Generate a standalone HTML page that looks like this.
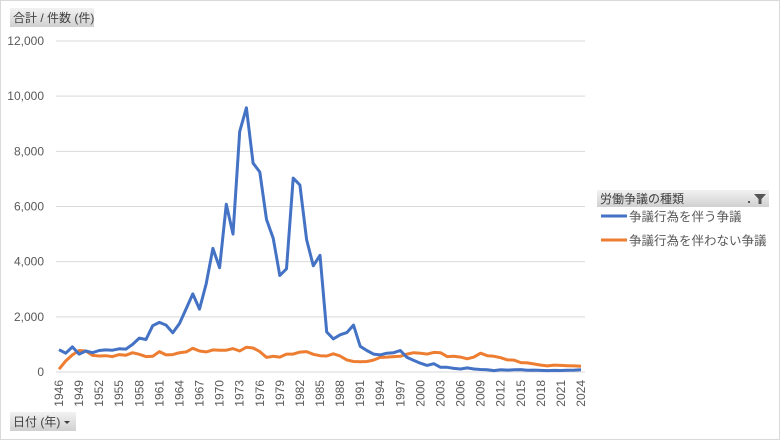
<!DOCTYPE html>
<html><head><meta charset="utf-8"><style>
body{margin:0;background:#fff;}
svg{display:block;font-family:"Liberation Sans","Noto Sans CJK JP",sans-serif;}
</style></head><body>
<svg id="c" width="780" height="440" viewBox="0 0 780 440" xmlns="http://www.w3.org/2000/svg">
<rect x="0.5" y="0.5" width="779" height="439" fill="#fff" stroke="#d9d9d9"/>
<defs><linearGradient id="g" x1="0" y1="0" x2="0" y2="1"><stop offset="0" stop-color="#f2f2f2"/><stop offset="1" stop-color="#d0d0d0"/></linearGradient></defs>
<rect x="10" y="8" width="84" height="19" fill="url(#g)"/>
<text x="13" y="22" font-size="12" fill="#404040">合計 / 件数 (件)</text>
<rect x="10" y="412" width="66" height="19" fill="url(#g)"/>
<text x="13" y="426" font-size="12" fill="#404040">日付 (年)</text>
<path d="M64 421 l6 0 l-3 3z" fill="#404040"/>
<rect x="597" y="190" width="172" height="17" fill="url(#g)"/>
<text x="600" y="203" font-size="12" fill="#404040">労働争議の種類</text>
<path d="M754 194 h12 l-4.5 5 v5 h-3 v-5z" fill="#555"/>
<rect x="748" y="201" width="2" height="2" fill="#555"/>
<line x1="601" y1="216" x2="627" y2="216" stroke="#4472c4" stroke-width="3"/>
<text x="629" y="221" font-size="12.5" fill="#595959">争議行為を伴う争議</text>
<line x1="601" y1="240" x2="627" y2="240" stroke="#ed7d31" stroke-width="3"/>
<text x="629" y="245" font-size="12.5" fill="#595959">争議行為を伴わない争議</text>
<g id="grid"></g><g id="lines"></g><g id="xl"></g>
</svg>
<script>
var B=[810,680,910,650,760,700,780,800,790,840,830,1000,1230,1180,1680,1800,1700,1420,1760,2300,2830,2280,3200,4480,3780,6080,5000,8720,9580,7570,7250,5530,4850,3500,3740,7030,6780,4800,3850,4230,1450,1200,1350,1430,1700,930,780,650,620,680,700,780,530,420,320,240,300,170,170,130,110,150,110,90,80,50,80,70,80,86,66,68,58,49,57,55,65,70,80];
var O=[100,400,620,780,760,600,580,590,560,630,610,700,640,560,570,740,620,630,700,730,860,760,730,800,790,790,850,760,900,870,740,530,570,540,650,650,720,740,640,590,580,660,580,440,380,370,380,430,530,540,560,570,650,700,680,650,710,700,560,570,540,480,540,680,590,570,520,440,430,340,330,290,250,220,250,240,230,220,210];
var x0=59,dx=(581-59)/78,y0=372,k=(372-41)/12000,ns="http://www.w3.org/2000/svg";
function el(p,t,a,tx){var e=document.createElementNS(ns,t);for(var i in a)e.setAttribute(i,a[i]);if(tx!=null)e.textContent=tx;document.getElementById(p).appendChild(e);}
for(var v=0;v<=12000;v+=2000){var y=y0-v*k;if(v>0)el("grid","line",{x1:56,x2:585,y1:y,y2:y,stroke:"#d9d9d9"});el("grid","text",{x:44,y:y+4,"text-anchor":"end","font-size":"12",fill:"#595959"},v.toLocaleString("en-US"));}
el("grid","line",{x1:56,x2:585,y1:y0,y2:y0,stroke:"#d9d9d9"});
function pl(d,c){el("lines","polyline",{points:d.map(function(v,i){return (x0+i*dx).toFixed(1)+","+(y0-v*k).toFixed(1)}).join(" "),fill:"none",stroke:c,"stroke-width":3,"stroke-linejoin":"round"});}
pl(O,"#ed7d31");pl(B,"#4472c4");
for(var i=0;i<79;i+=3){var x=x0+i*dx+4;el("xl","text",{x:x,y:380,"text-anchor":"end","font-size":"12",fill:"#595959",transform:"rotate(-90 "+x+" 380)"},1946+i);}
</script>
</body></html>
